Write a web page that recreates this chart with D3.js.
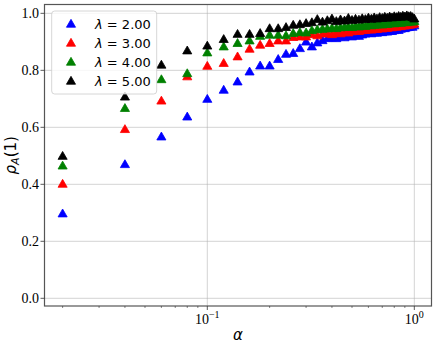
<!DOCTYPE html>
<html lang="en">
<head>
    <title>rho_A(1) vs alpha</title>
    <script src="https://d3js.org/d3.v7.min.js"></script>
    <style>
        body { margin: 0; background: #fff; }
        .tick-label { font-family: "Liberation Serif", "Times New Roman", serif; font-size: 14px; fill: #000; }
        .axis-label { font-family: "DejaVu Sans", sans-serif; font-style: italic; font-size: 15px; fill: #000; }
        .legend-text { font-family: "DejaVu Sans", sans-serif; font-size: 13px; fill: #000; }
    </style>
</head>
<body>
    <svg id="plot"></svg>

    <script>
        var alpha = [0.02, 0.04, 0.06, 0.08, 0.10, 0.12, 0.14, 0.16, 0.18, 0.20,
                     0.22, 0.24, 0.26, 0.28, 0.30, 0.32, 0.34, 0.36, 0.38, 0.40,
                     0.42, 0.44, 0.46, 0.48, 0.50, 0.52, 0.54, 0.56, 0.58, 0.60,
                     0.62, 0.64, 0.66, 0.68, 0.70, 0.72, 0.74, 0.76, 0.78, 0.80,
                     0.82, 0.84, 0.86, 0.88, 0.90, 0.92, 0.94, 0.96, 0.98, 1.00];

        var rhoLambda2 = [0.297, 0.470, 0.567, 0.637, 0.699, 0.731, 0.760, 0.795, 0.816, 0.816,
                          0.839, 0.857, 0.860, 0.877, 0.900, 0.883, 0.897, 0.905, 0.912, 0.914,
                          0.912, 0.918, 0.915, 0.920, 0.918, 0.922, 0.920, 0.925, 0.928, 0.930,
                          0.929, 0.932, 0.931, 0.934, 0.933, 0.936, 0.935, 0.938, 0.937, 0.940,
                          0.942, 0.941, 0.945, 0.948, 0.947, 0.950, 0.951, 0.953, 0.952, 0.957];

        var rhoLambda3 = [0.401, 0.593, 0.693, 0.778, 0.815, 0.825, 0.848, 0.875, 0.889, 0.895,
                          0.904, 0.904, 0.916, 0.918, 0.918, 0.926, 0.922, 0.928, 0.930, 0.926,
                          0.931, 0.929, 0.933, 0.932, 0.936, 0.938, 0.937, 0.940, 0.941, 0.943,
                          0.942, 0.945, 0.944, 0.947, 0.946, 0.949, 0.948, 0.951, 0.950, 0.953,
                          0.952, 0.955, 0.954, 0.957, 0.956, 0.958, 0.959, 0.960, 0.961, 0.963];

        var rhoLambda4 = [0.465, 0.667, 0.768, 0.789, 0.862, 0.883, 0.895, 0.904, 0.920, 0.924,
                          0.924, 0.922, 0.930, 0.933, 0.932, 0.940, 0.943, 0.945, 0.946, 0.948,
                          0.947, 0.950, 0.951, 0.952, 0.951, 0.954, 0.953, 0.956, 0.955, 0.958,
                          0.957, 0.959, 0.960, 0.961, 0.960, 0.963, 0.962, 0.964, 0.965, 0.964,
                          0.966, 0.967, 0.966, 0.968, 0.969, 0.968, 0.970, 0.971, 0.970, 0.972];

        var rhoLambda5 = [0.499, 0.707, 0.819, 0.869, 0.886, 0.909, 0.927, 0.927, 0.930, 0.947,
                          0.947, 0.951, 0.959, 0.961, 0.965, 0.968, 0.979, 0.970, 0.975, 0.981,
                          0.972, 0.978, 0.974, 0.983, 0.976, 0.980, 0.977, 0.982, 0.979, 0.984,
                          0.980, 0.985, 0.981, 0.986, 0.983, 0.987, 0.984, 0.988, 0.985, 0.989,
                          0.986, 0.990, 0.987, 0.991, 0.988, 0.992, 0.989, 0.990, 0.986, 0.981];

        var seriesNames = ["2.00", "3.00", "4.00", "5.00"];
        var seriesColors = ["#0000ff", "#ff0000", "#008000", "#000000"];
        var seriesValues = [rhoLambda2, rhoLambda3, rhoLambda4, rhoLambda5];

        var yTicks = [0.0, 0.2, 0.4, 0.6, 0.8, 1.0];
        var xMajorTicks = [0.1, 1];
        var xMajorExp = ["\u22121", "0"];

        var W = 437, H = 348;
        var plotLeft = 44.5, plotRight = 431.5, plotTop = 4.5, plotBottom = 306;

        var svg = d3.select("#plot")
            .attr("width", W)
            .attr("height", H);

        var xScale = d3.scaleLog()
            .domain([Math.pow(10, -1.7865), Math.pow(10, 0.083)])
            .range([plotLeft, plotRight]);
        var yScale = d3.scaleLinear()
            .domain([-0.027, 1.031])
            .range([plotBottom, plotTop]);

        // minor ticks on the log axis
        var xMinorTicks = [];
        [0.01, 0.1].forEach(function (dec) {
            for (var k = 2; k <= 9; k++) {
                var v = dec * k;
                if (xScale(v) > plotLeft && xScale(v) < plotRight) xMinorTicks.push(v);
            }
        });

        // grid
        var grid = svg.append("g");
        grid.selectAll("line.gy").data(yTicks).enter().append("line")
            .attr("x1", plotLeft).attr("x2", plotRight)
            .attr("y1", function (d) { return yScale(d); })
            .attr("y2", function (d) { return yScale(d); })
            .attr("stroke", "#b0b0b0").attr("stroke-opacity", 0.7).attr("stroke-width", 0.8);
        grid.selectAll("line.gx").data(xMajorTicks).enter().append("line")
            .attr("y1", plotTop).attr("y2", plotBottom)
            .attr("x1", function (d) { return xScale(d); })
            .attr("x2", function (d) { return xScale(d); })
            .attr("stroke", "#b0b0b0").attr("stroke-opacity", 0.7).attr("stroke-width", 0.8);

        // points
        var tri = d3.symbol().type(d3.symbolTriangle).size(36);
        seriesValues.forEach(function (vals, s) {
            svg.append("g").selectAll("path").data(vals).enter().append("path")
                .attr("d", tri)
                .attr("transform", function (d, i) {
                    return "translate(" + xScale(alpha[i]) + "," + (yScale(d) + 0.6) + ")";
                })
                .attr("fill", seriesColors[s])
                .attr("stroke", seriesColors[s])
                .attr("stroke-width", 0.8);
        });

        // frame
        svg.append("rect")
            .attr("x", plotLeft).attr("y", plotTop)
            .attr("width", plotRight - plotLeft).attr("height", plotBottom - plotTop)
            .attr("fill", "none").attr("stroke", "#555").attr("stroke-width", 1.2);

        // y ticks
        var yAxis = svg.append("g");
        yTicks.forEach(function (t) {
            var y = yScale(t);
            yAxis.append("line").attr("x1", plotLeft - 4).attr("x2", plotLeft)
                .attr("y1", y).attr("y2", y).attr("stroke", "#333").attr("stroke-width", 0.8);
            yAxis.append("text").attr("class", "tick-label")
                .attr("x", plotLeft - 5.5).attr("y", y + 4.8)
                .attr("text-anchor", "end")
                .text(d3.format(".1f")(t));
        });

        // x ticks
        var xAxis = svg.append("g");
        xMinorTicks.forEach(function (t) {
            var x = xScale(t);
            xAxis.append("line").attr("x1", x).attr("x2", x)
                .attr("y1", plotBottom).attr("y2", plotBottom + 2)
                .attr("stroke", "#333").attr("stroke-width", 0.6);
        });
        xMajorTicks.forEach(function (t, i) {
            var x = xScale(t);
            xAxis.append("line").attr("x1", x).attr("x2", x)
                .attr("y1", plotBottom).attr("y2", plotBottom + 4)
                .attr("stroke", "#333").attr("stroke-width", 0.8);
            var lbl = xAxis.append("text").attr("class", "tick-label")
                .attr("x", x).attr("y", plotBottom + 18)
                .attr("text-anchor", "middle");
            lbl.append("tspan").text("10");
            lbl.append("tspan").attr("dy", -6).style("font-size", "10px").text(xMajorExp[i]);
        });

        // axis labels
        svg.append("text").attr("class", "axis-label")
            .attr("x", (plotLeft + plotRight) / 2).attr("y", plotBottom + 34)
            .attr("text-anchor", "middle")
            .text("\u03b1");

        var yl = svg.append("text").attr("class", "axis-label")
            .attr("transform", "translate(16," + ((plotTop + plotBottom) / 2) + ") rotate(-90)")
            .attr("text-anchor", "middle");
        yl.append("tspan").text("\u03c1");
        yl.append("tspan").attr("dy", 3).style("font-size", "11px").text("A");
        yl.append("tspan").attr("dy", -3).style("font-style", "normal").text("(1)");

        // legend
        var lg = svg.append("g");
        lg.append("rect")
            .attr("x", 51.7).attr("y", 11).attr("width", 105).attr("height", 83)
            .attr("rx", 3).attr("fill", "#fff").attr("fill-opacity", 0.8)
            .attr("stroke", "#ccc").attr("stroke-width", 0.8);
        seriesNames.forEach(function (name, i) {
            var cy = 24 + i * 19;
            lg.append("path").attr("d", tri)
                .attr("transform", "translate(71," + (cy + 0.6) + ")")
                .attr("fill", seriesColors[i]).attr("stroke", seriesColors[i]).attr("stroke-width", 0.8);
            var t = lg.append("text").attr("class", "legend-text")
                .attr("x", 95).attr("y", cy + 5);
            t.append("tspan").style("font-style", "italic").text("\u03bb");
            t.append("tspan").text(" = " + name);
        });
    </script>
</body>
</html>
